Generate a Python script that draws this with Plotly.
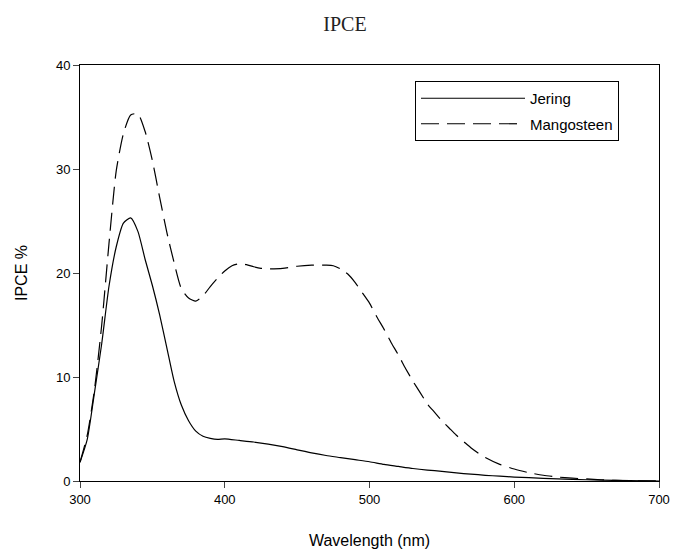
import plotly.graph_objects as go

# Wavelength grids (nm)
jering_wl = [300, 305, 310, 315, 320, 325, 330, 335, 340, 345, 350, 355, 360, 365, 370, 375,
             380, 385, 390, 395, 400, 410, 420, 430, 440, 450, 460, 470, 480, 490, 500, 510,
             520, 530, 540, 550, 560, 570, 580, 590, 600, 620, 640, 660, 680, 700]
jering_ipce = [1.8, 4.0, 8.5, 13.2, 18.7, 22.5, 24.8, 25.3, 24.0, 21.3, 18.8, 16.0, 12.8, 9.6, 7.3, 5.8,
               4.8, 4.3, 4.1, 4.0, 4.05, 3.9, 3.75, 3.55, 3.3, 3.0, 2.7, 2.45, 2.25, 2.05, 1.85, 1.6,
               1.4, 1.2, 1.05, 0.93, 0.78, 0.66, 0.55, 0.46, 0.38, 0.26, 0.16, 0.08, 0.03, 0.0]

mangosteen_wl = [300, 305, 310, 315, 320, 325, 330, 335, 340, 345, 350, 355, 360, 365, 370, 375,
                 380, 385, 390, 395, 400, 405, 410, 415, 420, 425, 430, 440, 450, 460, 470, 475,
                 480, 485, 490, 495, 500, 505, 510, 515, 520, 525, 530, 535, 540, 545, 550, 555,
                 560, 565, 570, 575, 580, 590, 600, 610, 620, 630, 640, 650, 660, 670, 680, 700]
mangosteen_ipce = [1.8, 4.4, 8.8, 15.0, 22.8, 29.8, 33.4, 35.2, 35.3, 33.6, 30.8, 27.3, 23.9, 21.0, 18.5, 17.6,
                   17.3, 17.8, 18.7, 19.5, 20.2, 20.7, 20.9, 20.8, 20.6, 20.45, 20.4, 20.45, 20.65, 20.75, 20.75, 20.7,
                   20.4, 19.9, 19.1, 18.1, 17.1, 15.8, 14.6, 13.3, 12.1, 10.8, 9.6, 8.5, 7.4, 6.6, 5.8, 5.1,
                   4.4, 3.8, 3.2, 2.7, 2.25, 1.6, 1.15, 0.8, 0.55, 0.38, 0.27, 0.2, 0.12, 0.06, 0.03, 0.0]

x_ticks = [300, 400, 500, 600, 700]
y_ticks = [0, 10, 20, 30, 40]

fig = go.Figure()
fig.add_trace(go.Scatter(x=jering_wl, y=jering_ipce, mode="lines", name="Jering", legendgroup="a",
                         line=dict(color="black", width=1.2, shape="spline", smoothing=0.6)))
fig.add_trace(go.Scatter(x=mangosteen_wl, y=mangosteen_ipce, mode="lines", name="Mangosteen", legendgroup="b",
                         line=dict(color="black", width=1.2, dash="18px,8px", shape="spline", smoothing=0.6)))

W, H = 673, 549
axis_font = dict(family="Liberation Sans, Arial", size=13, color="black")
fig.update_layout(
    width=W, height=H,
    margin=dict(l=80, r=14, t=65, b=68, autoexpand=False),
    paper_bgcolor="white", plot_bgcolor="white",
    title=dict(text="IPCE", x=345/W, xanchor="center", y=1 - 24/H, yanchor="middle",
               font=dict(family="Liberation Serif, Times New Roman", size=20, color="#222")),
    xaxis=dict(range=[300, 700], tickvals=x_ticks, ticks="outside", ticklen=6,
               showgrid=False, zeroline=False, showline=True, linecolor="black", linewidth=1,
               mirror=True, tickfont=axis_font, automargin=False,
               title=dict(text="Wavelength (nm)", standoff=29,
                          font=dict(family="Liberation Sans, Arial", size=16, color="black"))),
    yaxis=dict(range=[0, 40], tickvals=y_ticks, ticks="outside", ticklen=6,
               showgrid=False, zeroline=False, showline=True, linecolor="black", linewidth=1,
               mirror=True, tickfont=axis_font, automargin=False,
               title=dict(text="IPCE %", standoff=24,
                          font=dict(family="Liberation Sans, Arial", size=16, color="black"))),
    legend=dict(x=(415-80)/579, y=(481-81)/416, xanchor="left", yanchor="top",
                bgcolor="white", bordercolor="black", borderwidth=1,
                font=dict(family="Liberation Sans, Arial", size=15, color="black"),
                itemwidth=104, traceorder="grouped", tracegroupgap=3),
    showlegend=True,
)

fig.write_html("out.html", config={"displayModeBar": False},
               post_script="document.body.style.margin='0';document.body.style.overflow='hidden';")
